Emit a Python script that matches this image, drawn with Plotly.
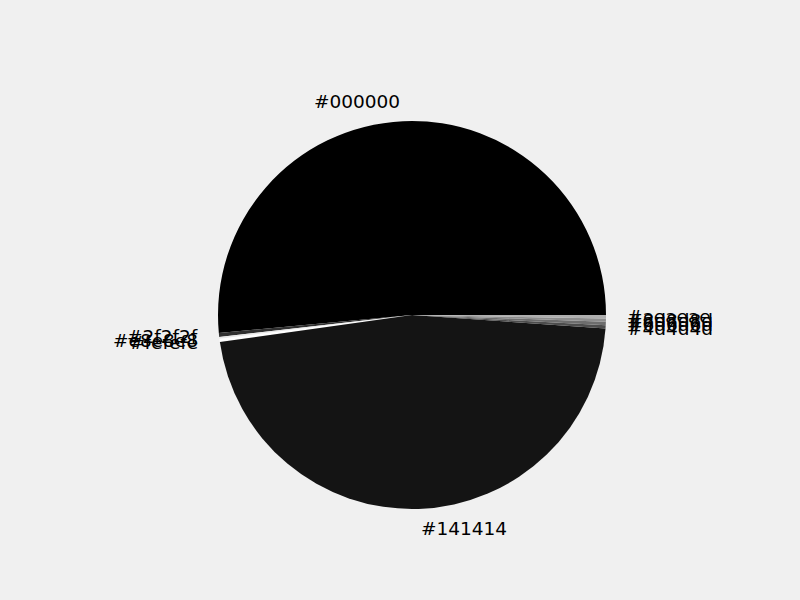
import math
import plotly.graph_objects as go

labels = ["#000000", "#2f2f2f", "#e8e8e8", "#fefefe", "#141414",
          "#4d4d4d", "#6d6d6d", "#8d8d8d", "#aeaeae"]
values = [185.3, 1.2, 0.5, 1.0, 168.0, 1.0, 1.0, 1.0, 1.0]
colors = labels[:]

W, H = 800, 600
cx, cy, r = 412, 315, 194
dom_x = [(cx - r) / W, (cx + r) / W]
dom_y = [1 - (cy + r) / H, 1 - (cy - r) / H]

fig = go.Figure(go.Pie(
    labels=labels, values=values, sort=False,
    direction="counterclockwise", rotation=264.7,
    marker=dict(colors=colors, line=dict(width=0)),
    textinfo="none", hoverinfo="label+percent",
    domain=dict(x=dom_x, y=dom_y), showlegend=False,
))

total = sum(values)
acc = 0.0
annotations = []
for lab, v in zip(labels, values):
    mid = (acc + v / 2) / total * 2 * math.pi
    acc += v
    xt = cx + 1.1 * r * math.cos(mid)
    yt = cy - 1.1 * r * math.sin(mid)
    annotations.append(dict(
        x=xt / W, y=1 - yt / H, xref="paper", yref="paper",
        text=lab, showarrow=False,
        xanchor="left" if math.cos(mid) > 0 else "right",
        yanchor="middle",
        font=dict(family="DejaVu Sans", size=18.5, color="black"),
    ))

fig.update_layout(
    width=W, height=H, margin=dict(l=0, r=0, t=0, b=0),
    paper_bgcolor="#f0f0f0", plot_bgcolor="#f0f0f0",
    annotations=annotations,
    font=dict(family="DejaVu Sans"),
)
fig.write_html("out.html")
